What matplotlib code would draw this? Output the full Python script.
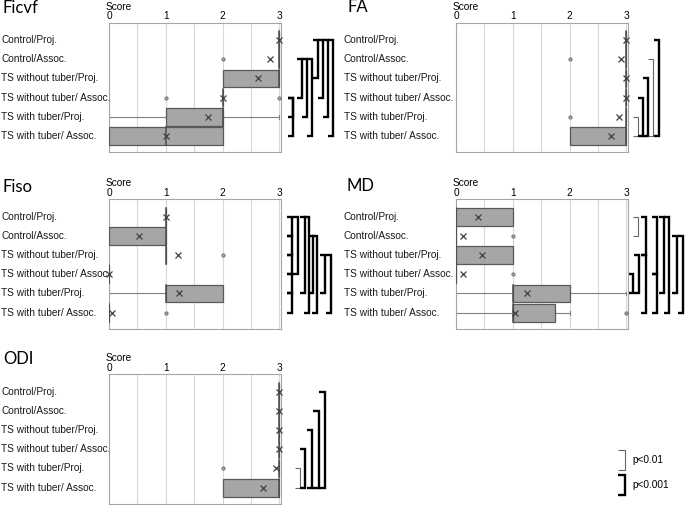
import numpy as np
import matplotlib.pyplot as plt
from matplotlib.ticker import MultipleLocator
from matplotlib.transforms import blended_transform_factory

plt.rcParams['font.family'] = ['Liberation Sans', 'DejaVu Sans']

W, H = 685, 511  # output size in pixels (dpi 100)

# ---- data -------------------------------------------------------------
groups = ["Control/Proj.", "Control/Assoc.", "TS without tuber/Proj.",
          "TS without tuber/ Assoc.", "TS with tuber/Proj.", "TS with tuber/ Assoc."]
score_ticks = [0, 1, 2, 3]
panels = ["Ficvf", "FA", "Fiso", "MD", "ODI"]
sig_labels = ["p<0.01", "p<0.001"]

# per group: (whisker low, q1, median, q3, whisker high)
ficvf_box = [(3, 3, 3, 3, 3), (3, 3, 3, 3, 3), (2, 2, 3, 3, 3),
             (2, 2, 2, 2, 2), (0, 1, 2, 2, 3), (0, 0, 1, 2, 2)]
ficvf_mean = [3.0, 2.83, 2.62, 2.0, 1.75, 1.0]
ficvf_out = [[], [2], [], [1, 3], [], []]

fa_box = [(3, 3, 3, 3, 3), (3, 3, 3, 3, 3), (3, 3, 3, 3, 3),
          (3, 3, 3, 3, 3), (3, 3, 3, 3, 3), (2, 2, 3, 3, 3)]
fa_mean = [3.0, 2.91, 3.0, 3.0, 2.88, 2.73]
fa_out = [[], [2], [], [], [2], []]

fiso_box = [(1, 1, 1, 1, 1), (0, 0, 1, 1, 1), (1, 1, 1, 1, 1),
            (0, 0, 0, 0, 0), (0, 1, 1, 2, 2), (0, 0, 0, 0, 0)]
fiso_mean = [1.0, 0.53, 1.21, 0.0, 1.24, 0.06]
fiso_out = [[], [], [2], [], [], [1]]

md_box = [(0, 0, 0, 1, 1), (0, 0, 0, 0, 0), (0, 0, 0, 1, 1),
          (0, 0, 0, 0, 0), (0, 1, 1, 2, 3), (0, 1, 1, 1.75, 2)]
md_mean = [0.38, 0.13, 0.45, 0.13, 1.25, 1.04]
md_out = [[], [1], [], [1], [], [3]]

odi_box = [(3, 3, 3, 3, 3), (3, 3, 3, 3, 3), (3, 3, 3, 3, 3),
           (3, 3, 3, 3, 3), (3, 3, 3, 3, 3), (2, 2, 3, 3, 3)]
odi_mean = [3.0, 3.0, 3.0, 3.0, 2.95, 2.72]
odi_out = [[], [], [], [], [2], []]

# significant pairs (group a, group b, level)
ficvf_pairs = [(3, 4, "p<0.001"), (3, 5, "p<0.001"), (1, 3, "p<0.001"),
               (1, 4, "p<0.001"), (1, 5, "p<0.001"), (0, 2, "p<0.001"),
               (0, 3, "p<0.001"), (0, 4, "p<0.001"), (0, 5, "p<0.001")]
fa_pairs = [(4, 5, "p<0.01"), (3, 5, "p<0.001"), (2, 5, "p<0.001"),
            (1, 5, "p<0.01"), (0, 5, "p<0.001")]
fiso_pairs = [(0, 1, "p<0.001"), (1, 2, "p<0.001"), (2, 3, "p<0.001"),
              (3, 4, "p<0.001"), (4, 5, "p<0.001"), (0, 3, "p<0.001"),
              (0, 4, "p<0.001"), (0, 5, "p<0.001"), (1, 4, "p<0.001"),
              (1, 5, "p<0.001"), (2, 4, "p<0.001"), (2, 5, "p<0.001")]
md_pairs = [(3, 4, "p<0.001"), (0, 1, "p<0.01"), (2, 4, "p<0.001"),
            (0, 2, "p<0.001"), (2, 5, "p<0.001"), (0, 3, "p<0.001"),
            (3, 5, "p<0.001"), (0, 4, "p<0.001"), (0, 5, "p<0.001"),
            (1, 4, "p<0.001"), (1, 5, "p<0.001")]
odi_pairs = [(4, 5, "p<0.01"), (3, 5, "p<0.001"), (2, 5, "p<0.001"),
             (1, 5, "p<0.001"), (0, 5, "p<0.001")]

# ---- layout (pixels) --------------------------------------------------
AX_W, AX_H = 172, 129.6
YLIM = (5.85, -0.9)
layout = {
    # axes left, axes top, label x, title x, title baseline
    "Ficvf": (109, 22.7, 1, 2, 13),
    "FA": (456, 22.7, 344, 348, 12.5),
    "Fiso": (109, 199.4, 1, 2, 191.5),
    "MD": (456, 199.4, 344, 347, 191),
    "ODI": (109, 374.4, 1, 3, 364),
}
# x pixel of each bracket's vertical line
bracket_x = {
    "Ficvf": [293, 293, 302, 307, 312, 318, 323, 328, 333],
    "FA": [638, 643, 648, 653, 659],
    "Fiso": [292, 292, 292, 292, 292, 298, 305, 309, 313, 317, 325, 331],
    "MD": [633, 638, 639, 646, 646, 657, 657, 664, 669, 677, 683],
    "ODI": [300, 305, 312, 318.5, 324.5],
}
bracket_style = {"p<0.01": dict(lw=0.8, color="#666666"),
                 "p<0.001": dict(lw=1.7, color="black")}
TICK_L = 5.5
FS = 7.3

data = {
    "Ficvf": (ficvf_box, ficvf_mean, ficvf_out, ficvf_pairs),
    "FA": (fa_box, fa_mean, fa_out, fa_pairs),
    "Fiso": (fiso_box, fiso_mean, fiso_out, fiso_pairs),
    "MD": (md_box, md_mean, md_out, md_pairs),
    "ODI": (odi_box, odi_mean, odi_out, odi_pairs),
}

fig = plt.figure(figsize=(W / 100, H / 100), dpi=100)

# overlay for the legend, in pixel coordinates
ov = fig.add_axes([0, 0, 1, 1])
ov.set_xlim(0, W)
ov.set_ylim(H, 0)
ov.axis("off")

for name in panels:
    box, mean, out, pairs = data[name]
    left, top, lab_x, tx, ty = layout[name]
    ax = fig.add_axes([left / W, 1 - (top + AX_H) / H, AX_W / W, AX_H / H])
    ax.set_xlim(0, 3.03)
    ax.set_ylim(*YLIM)
    ax.set_xticks(score_ticks)
    ax.xaxis.set_minor_locator(MultipleLocator(0.5))
    ax.xaxis.tick_top()
    ax.tick_params(axis="x", which="both", length=0, pad=1.2, labelsize=FS)
    ax.set_yticks([])
    ax.grid(axis="x", which="both", color="#d9d9d9", lw=0.8)
    ax.set_axisbelow(True)
    for sp in ax.spines.values():
        sp.set_color("#a6a6a6")
        sp.set_linewidth(0.8)

    rows = np.arange(len(groups))
    for i in rows:
        lo, q1, med, q3, hi = box[i]
        if lo < q1:
            ax.plot([lo, q1], [i, i], color="#808080", lw=0.8, zorder=2)
            ax.plot([lo, lo], [i - 0.1, i + 0.1], color="#808080", lw=0.8, zorder=2)
        if hi > q3:
            ax.plot([q3, hi], [i, i], color="#808080", lw=0.8, zorder=2)
            ax.plot([hi, hi], [i - 0.1, i + 0.1], color="#808080", lw=0.8, zorder=2)
        ax.barh(i, q3 - q1, left=q1, height=0.92, color="#a6a6a6",
                edgecolor="#595959", lw=0.9, zorder=3)
        ax.plot([med, med], [i - 0.46, i + 0.46], color="#4d4d4d", lw=1.1, zorder=4)
        if out[i]:
            ax.plot(out[i], [i] * len(out[i]), "o", ms=2.4, mfc="#a6a6a6",
                    mec="#595959", mew=0.5, zorder=5, clip_on=False)
        ax.plot(mean[i], i, "x", ms=4, mew=0.9, color="#404040", zorder=6, clip_on=False)

    trans = blended_transform_factory(fig.transFigure, ax.transData)
    for i, g in enumerate(groups):
        ax.text(lab_x / W, i, g, transform=trans, ha="left", va="center",
                fontsize=FS, color="#1a1a1a", clip_on=False)

    for (a, b, sig), xv in zip(pairs, bracket_x[name]):
        xs = np.array([xv - TICK_L, xv, xv, xv - TICK_L]) / W
        ax.plot(xs, [a, a, b, b], transform=trans, clip_on=False,
                solid_joinstyle="miter", solid_capstyle="butt", **bracket_style[sig])

    fig.text(tx / W, 1 - ty / H, name, fontsize=12, family="Lato", va="baseline")
    fig.text((left - 3) / W, 1 - (top - 16) / H, "Score", fontsize=FS,
             ha="left", va="center")

# legend
leg_y = [(450, 470), (475, 495)]
for lab, (y0, y1) in zip(sig_labels, leg_y):
    ov.plot([618.5, 625, 625, 618.5], [y0, y0, y1, y1], solid_joinstyle="miter",
            solid_capstyle="butt", **bracket_style[lab])
    ov.text(632, (y0 + y1) / 2, lab, fontsize=FS, ha="left", va="center")

fig.savefig("out.png", dpi=100, facecolor="white")
